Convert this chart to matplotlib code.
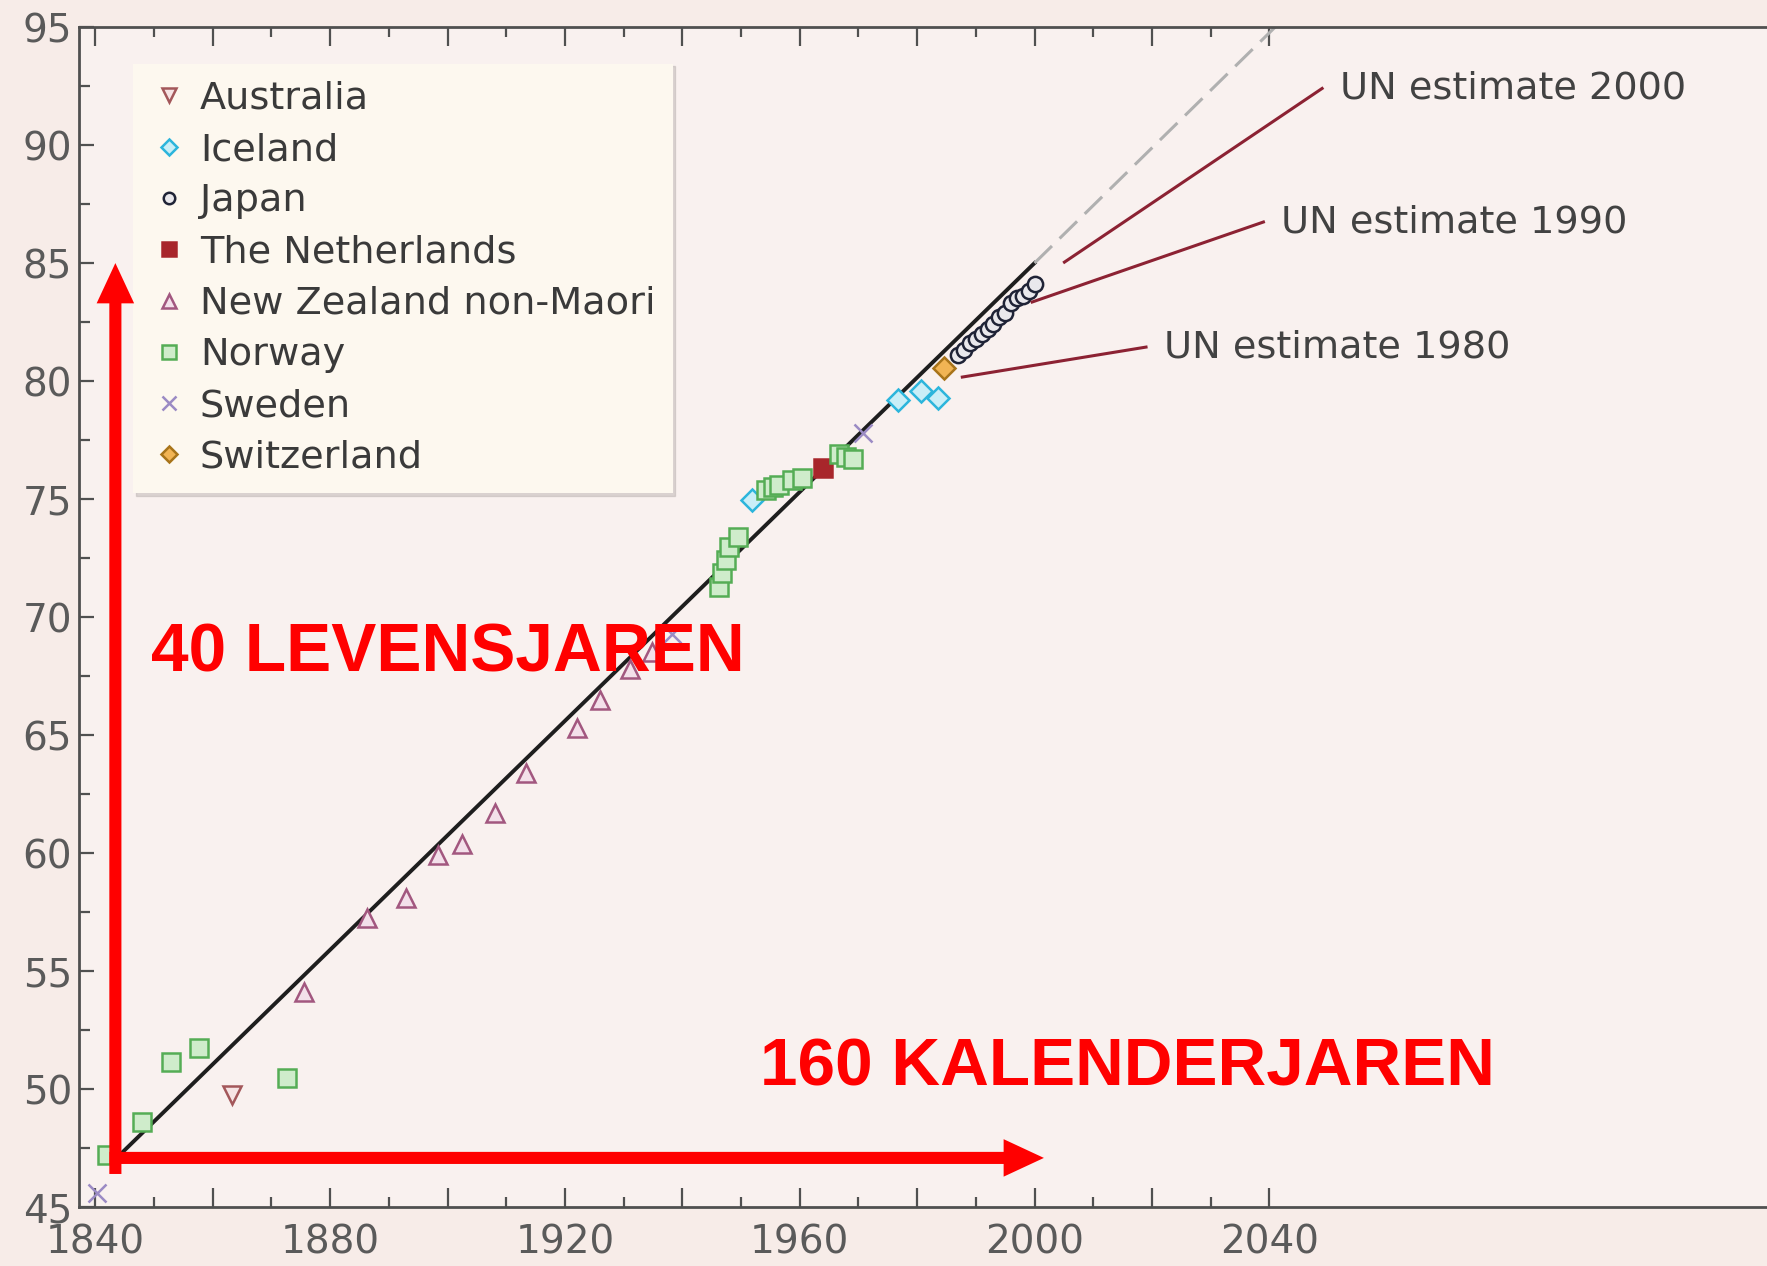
import matplotlib
matplotlib.use('Agg')
import matplotlib.pyplot as plt
from matplotlib.ticker import FixedLocator, FuncFormatter

plt.rcParams['font.family'] = ['DejaVu Sans']

# record life expectancy (female), by country
aus_years = [1863.2]
aus_vals = [49.75]
ice_years = [1951.8, 1976.8, 1980.7, 1983.6]
ice_vals = [74.96, 79.2, 79.6, 79.3]
jap_years = [1987, 1988, 1989, 1990, 1991, 1992, 1993, 1994, 1995, 1996, 1997, 1998, 1999, 2000]
jap_vals = [81.1, 81.3, 81.6, 81.8, 82.0, 82.2, 82.4, 82.7, 82.9, 83.3, 83.5, 83.6, 83.8, 84.1]
ned_years = [1963.9]
ned_vals = [76.3]
nz_years = [1875.6, 1886.3, 1893.0, 1898.3, 1902.5, 1908.0, 1913.4, 1922.1, 1925.9, 1931.0, 1934.9]
nz_vals = [54.1, 57.25, 58.1, 59.9, 60.4, 61.7, 63.4, 65.3, 66.5, 67.8, 68.5]
nor_years = [1841.9, 1848.0, 1852.9, 1857.7, 1872.7, 1946.3, 1946.8, 1947.5, 1948.0, 1949.4,
             1954.3, 1955.4, 1956.5, 1958.7, 1960.4, 1966.7, 1967.8, 1969.0]
nor_vals = [47.2, 48.6, 51.14, 51.74, 50.47, 71.27, 71.86, 72.4, 72.97, 73.4,
            75.4, 75.5, 75.6, 75.8, 75.9, 76.9, 76.8, 76.7]
swe_years = [1840.2, 1938.3, 1970.7]
swe_vals = [45.6, 69.3, 77.8]
swi_years = [1984.6]
swi_vals = [80.55]

trend_years = [1843.5, 2000]
trend_vals = [47.05, 85.0]
proj_years = [2000, 2041]
proj_vals = [85.0, 95.0]

un_labels = ['UN estimate 1980', 'UN estimate 1990', 'UN estimate 2000']
un_x0 = [1987.7, 1999.6, 2005.1]
un_y0 = [80.17, 83.35, 85.04]
un_x1 = [2019.0, 2039.0, 2049.0]
un_y1 = [81.44, 86.74, 92.4]

fig = plt.figure(figsize=(17.67, 12.66), dpi=100, facecolor='#f7ece8')
ax = fig.add_axes([0.0447, 0.0466, 0.9553, 0.932])
ax.set_facecolor('#f9f1ef')
ax.set_xlim(1837.2, 2124.8)
ax.set_ylim(45, 95)

ax.plot(trend_years, trend_vals, color='#1e1e1e', lw=2.8, zorder=2)
ax.plot(proj_years, proj_vals, color='#b0b0b0', lw=2.2, dashes=(8, 3.5), zorder=2)

series = [
    ('Australia', aus_years, aus_vals, 'v', '#a3575a', '#f6e4e4'),
    ('Iceland', ice_years, ice_vals, 'D', '#2cb5dc', '#c9eef7'),
    ('Japan', jap_years, jap_vals, 'o', '#1f2336', '#e9e8ec'),
    ('The Netherlands', ned_years, ned_vals, 's', '#a8262b', '#a8262b'),
    ('New Zealand non-Maori', nz_years, nz_vals, '^', '#a2577f', '#f3e0ea'),
    ('Norway', nor_years, nor_vals, 's', '#55ad55', '#cfeccb'),
    ('Sweden', swe_years, swe_vals, 'x', '#9b8bc4', '#9b8bc4'),
    ('Switzerland', swi_years, swi_vals, 'D', '#a8741a', '#f1b454'),
]
for name, xs, ys, mk, ec, fc in series:
    ms = {'D': 11, 'o': 11}.get(mk, 13)
    ax.plot(xs, ys, linestyle='none', marker=mk, ms=ms, mew=1.8, mec=ec, mfc=fc,
            label=name, zorder=3)

for lab, x0, y0, x1, y1 in zip(un_labels, un_x0, un_y0, un_x1, un_y1):
    ax.plot([x0, x1], [y0, y1], color='#8c2233', lw=2.2, zorder=4)
    ax.text(x1 + 3.0, y1, lab, fontsize=27.5, color='#424242', va='center', ha='left')

leg = ax.legend(loc='upper left', bbox_to_anchor=(0.032, 0.969), borderaxespad=0,
                frameon=True, fancybox=False, facecolor='#fdf8ef', edgecolor='none',
                framealpha=1, shadow={'color': '#bdb5b2', 'alpha': 0.5},
                fontsize=27.5, markerscale=0.75, handlelength=1.0, handletextpad=0.3,
                labelspacing=0.4, borderpad=0.45)
for t in leg.get_texts():
    t.set_color('#3a3a3a')
leg.set_zorder(5)

# ticks
ax.xaxis.set_major_locator(FixedLocator(list(range(1840, 2041, 20))))
ax.xaxis.set_minor_locator(FixedLocator(list(range(1850, 2031, 20))))
ax.xaxis.set_major_formatter(FuncFormatter(lambda v, p: str(int(round(v))) if int(round(v)) % 40 == 0 else ''))
ax.yaxis.set_major_locator(FixedLocator(list(range(45, 96, 5))))
ax.yaxis.set_minor_locator(FixedLocator([47.5 + 5 * i for i in range(10)]))
ax.tick_params(axis='x', which='both', direction='in', top=True, bottom=True,
               labelsize=28, labelcolor='#5a5a5a', color='#505050', pad=12)
ax.tick_params(axis='x', which='major', length=14, width=1.6)
ax.tick_params(axis='x', which='minor', length=7, width=1.6)
ax.tick_params(axis='y', which='both', direction='in', left=True, right=False,
               labelsize=28, labelcolor='#5a5a5a', color='#505050', pad=5)
ax.tick_params(axis='y', which='major', length=11, width=1.6)
ax.tick_params(axis='y', which='minor', length=8, width=1.6)
for s in ['left', 'bottom', 'top']:
    ax.spines[s].set_color('#505050')
    ax.spines[s].set_linewidth(2)
ax.spines['right'].set_visible(False)

# red overlay
arrow_style = 'simple,head_length=0.29,head_width=0.27,tail_width=0.087'
ax.annotate('', xy=(1843.4, 85.0), xytext=(1843.4, 46.4),
            arrowprops=dict(arrowstyle=arrow_style, mutation_scale=100, fc='#ff0000',
                            ec='none', lw=0, shrinkA=0, shrinkB=0), zorder=6)
ax.annotate('', xy=(2001.6, 47.08), xytext=(1842.4, 47.08),
            arrowprops=dict(arrowstyle=arrow_style, mutation_scale=100, fc='#ff0000',
                            ec='none', lw=0, shrinkA=0, shrinkB=0), zorder=6)
ax.text(1849.5, 68.45, '40 LEVENSJAREN', fontsize=48.7, family='Liberation Sans',
        weight='bold', color='#ff0000', va='center', ha='left', zorder=7)
ax.text(1953.3, 50.85, '160 KALENDERJAREN', fontsize=48.6, family='Liberation Sans',
        weight='bold', color='#ff0000', va='center', ha='left', zorder=7)

fig.savefig('out.png', dpi=100, facecolor=fig.get_facecolor())
